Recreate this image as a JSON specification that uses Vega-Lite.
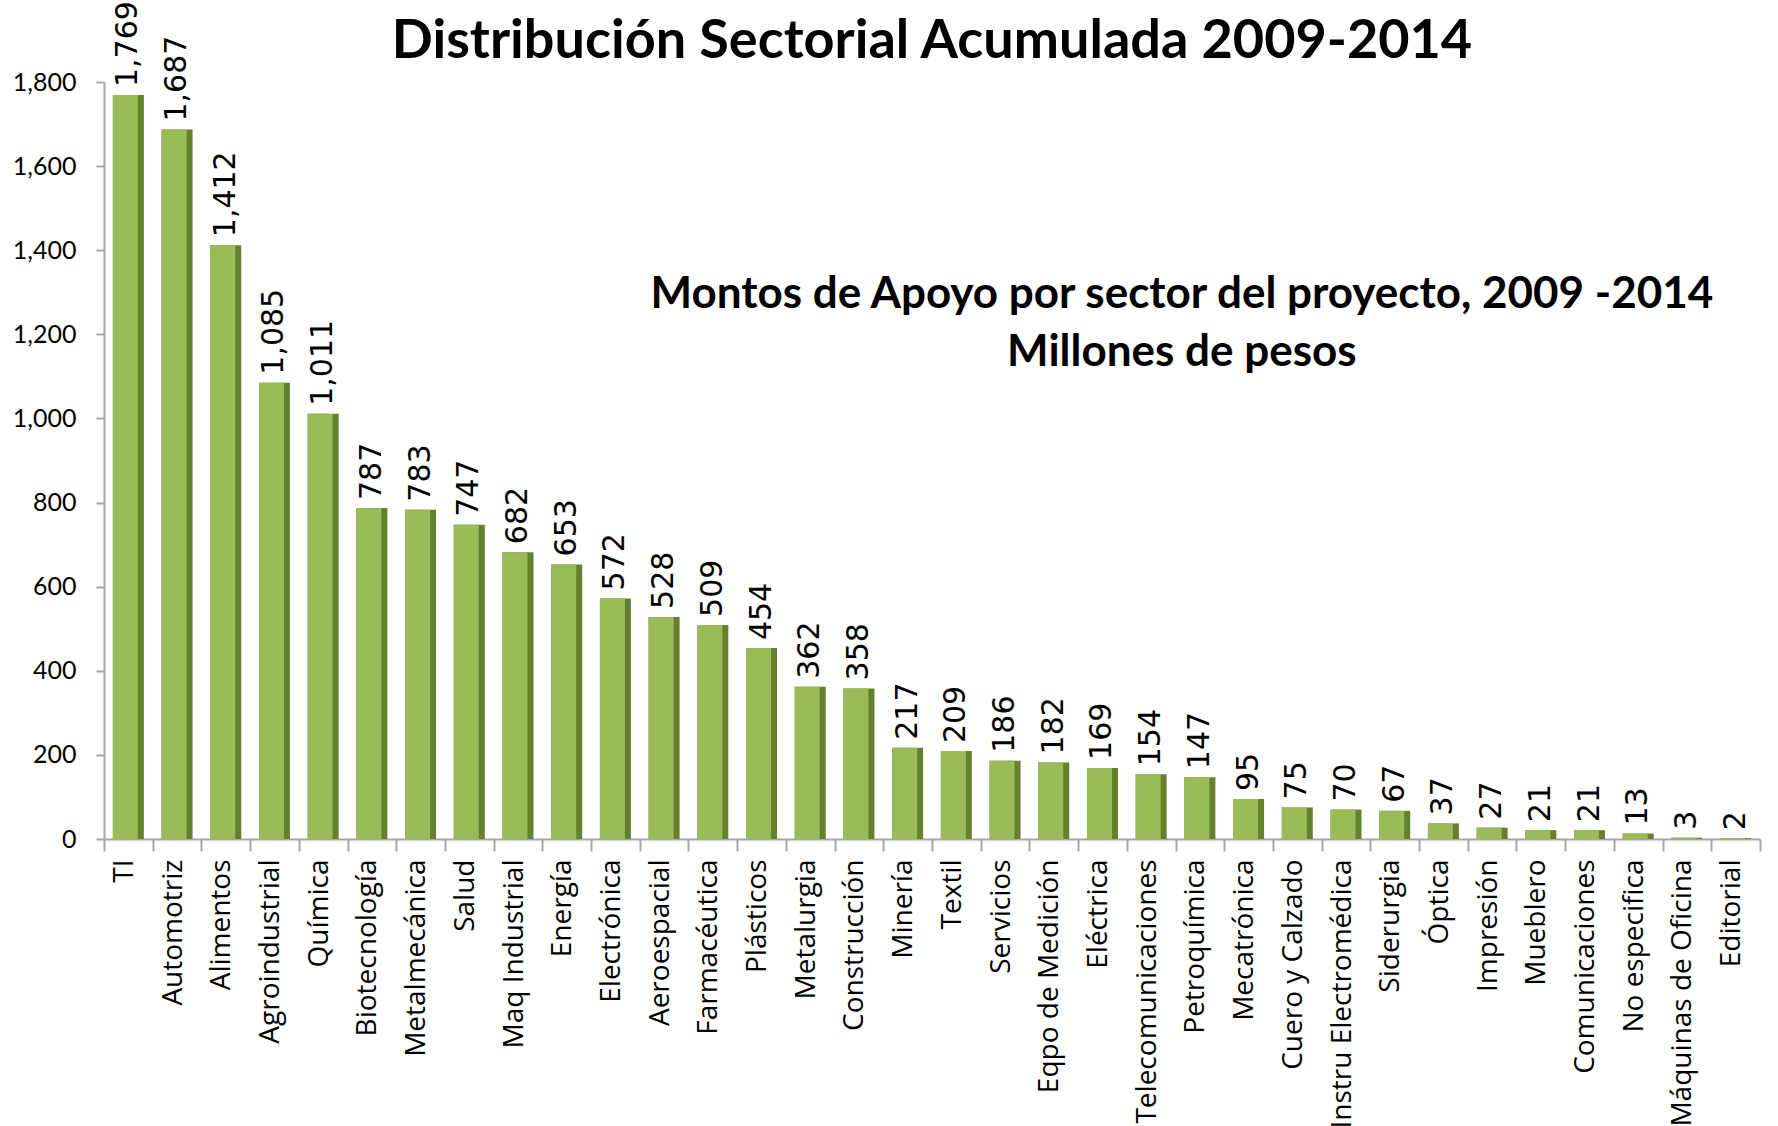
{
  "$schema": "https://vega.github.io/schema/vega-lite/v6.json",
  "width": 1656,
  "height": 757,
  "autosize": {"type": "none"},
  "padding": {"left": 104, "top": 82, "right": 18, "bottom": 287},
  "background": "white",
  "title": {
    "text": "Distribución Sectorial Acumulada 2009-2014",
    "font": "Lato",
    "fontSize": 54,
    "fontWeight": "bold",
    "color": "black",
    "anchor": "middle",
    "offset": -68
  },
  "config": {"view": {"stroke": null}},
  "datasets": {
    "sectores": [
      {"sector": "TI", "monto": 1769},
      {"sector": "Automotriz", "monto": 1687},
      {"sector": "Alimentos", "monto": 1412},
      {"sector": "Agroindustrial", "monto": 1085},
      {"sector": "Química", "monto": 1011},
      {"sector": "Biotecnología", "monto": 787},
      {"sector": "Metalmecánica", "monto": 783},
      {"sector": "Salud", "monto": 747},
      {"sector": "Maq Industrial", "monto": 682},
      {"sector": "Energía", "monto": 653},
      {"sector": "Electrónica", "monto": 572},
      {"sector": "Aeroespacial", "monto": 528},
      {"sector": "Farmacéutica", "monto": 509},
      {"sector": "Plásticos", "monto": 454},
      {"sector": "Metalurgia", "monto": 362},
      {"sector": "Construcción", "monto": 358},
      {"sector": "Minería", "monto": 217},
      {"sector": "Textil", "monto": 209},
      {"sector": "Servicios", "monto": 186},
      {"sector": "Eqpo de Medición", "monto": 182},
      {"sector": "Eléctrica", "monto": 169},
      {"sector": "Telecomunicaciones", "monto": 154},
      {"sector": "Petroquímica", "monto": 147},
      {"sector": "Mecatrónica", "monto": 95},
      {"sector": "Cuero y Calzado", "monto": 75},
      {"sector": "Instru Electromédica", "monto": 70},
      {"sector": "Siderurgia", "monto": 67},
      {"sector": "Óptica", "monto": 37},
      {"sector": "Impresión", "monto": 27},
      {"sector": "Mueblero", "monto": 21},
      {"sector": "Comunicaciones", "monto": 21},
      {"sector": "No especifica", "monto": 13},
      {"sector": "Máquinas de Oficina", "monto": 3},
      {"sector": "Editorial", "monto": 2}
    ],
    "nota": [
      {"linea1": "Montos de Apoyo por sector del proyecto, 2009 -2014", "linea2": "Millones de pesos"}
    ]
  },
  "layer": [
    {
      "data": {"name": "sectores"},
      "encoding": {
        "x": {
          "field": "sector",
          "type": "nominal",
          "sort": null,
          "scale": {"paddingInner": 0, "paddingOuter": 0},
          "axis": {
            "title": null,
            "labelAngle": -90,
            "labelFont": "Open Sans",
            "labelFontSize": 28,
            "labelColor": "black",
            "labelPadding": 8,
            "labelOffset": -4,
            "labelLimit": 0,
            "tickBand": "extent",
            "tickSize": 12,
            "tickColor": "#A6A6A6",
            "tickWidth": 2,
            "domainColor": "#A6A6A6",
            "domainWidth": 2,
            "labelOverlap": false
          }
        },
        "y": {
          "field": "monto",
          "type": "quantitative",
          "scale": {"domain": [0, 1800], "nice": false},
          "axis": {
            "title": null,
            "values": [0, 200, 400, 600, 800, 1000, 1200, 1400, 1600, 1800],
            "format": ",d",
            "grid": false,
            "labelFont": "Lato",
            "labelFontSize": 25,
            "labelColor": "black",
            "labelPadding": 20,
            "tickSize": 8,
            "tickColor": "#A6A6A6",
            "tickWidth": 2,
            "domainColor": "#A6A6A6",
            "domainWidth": 2
          }
        }
      },
      "layer": [
        {"mark": {"type": "bar", "size": 31, "color": "#66802F"}},
        {"mark": {"type": "bar", "size": 25, "xOffset": -3, "color": "#9BBB59"}},
        {
          "mark": {
            "type": "text",
            "angle": 270,
            "align": "left",
            "baseline": "middle",
            "dx": 8,
            "font": "DejaVu Sans",
            "fontSize": 30,
            "color": "black"
          },
          "encoding": {"text": {"field": "monto", "type": "quantitative", "format": ",d"}}
        }
      ]
    },
    {
      "data": {"name": "nota"},
      "transform": [{"fold": ["linea1", "linea2"], "as": ["linea", "texto"]}],
      "mark": {
        "type": "text",
        "align": "center",
        "baseline": "middle",
        "font": "Lato",
        "fontSize": 44,
        "fontWeight": "bold",
        "color": "black",
        "dx": -18
      },
      "encoding": {
        "x": {"datum": "Petroquímica"},
        "y": {
          "field": "linea",
          "type": "nominal",
          "scale": {"type": "point", "padding": 0, "domain": ["linea1", "linea2"], "range": [213, 271]},
          "axis": null
        },
        "text": {"field": "texto", "type": "nominal"}
      }
    }
  ],
  "resolve": {"scale": {"y": "independent"}}
}
